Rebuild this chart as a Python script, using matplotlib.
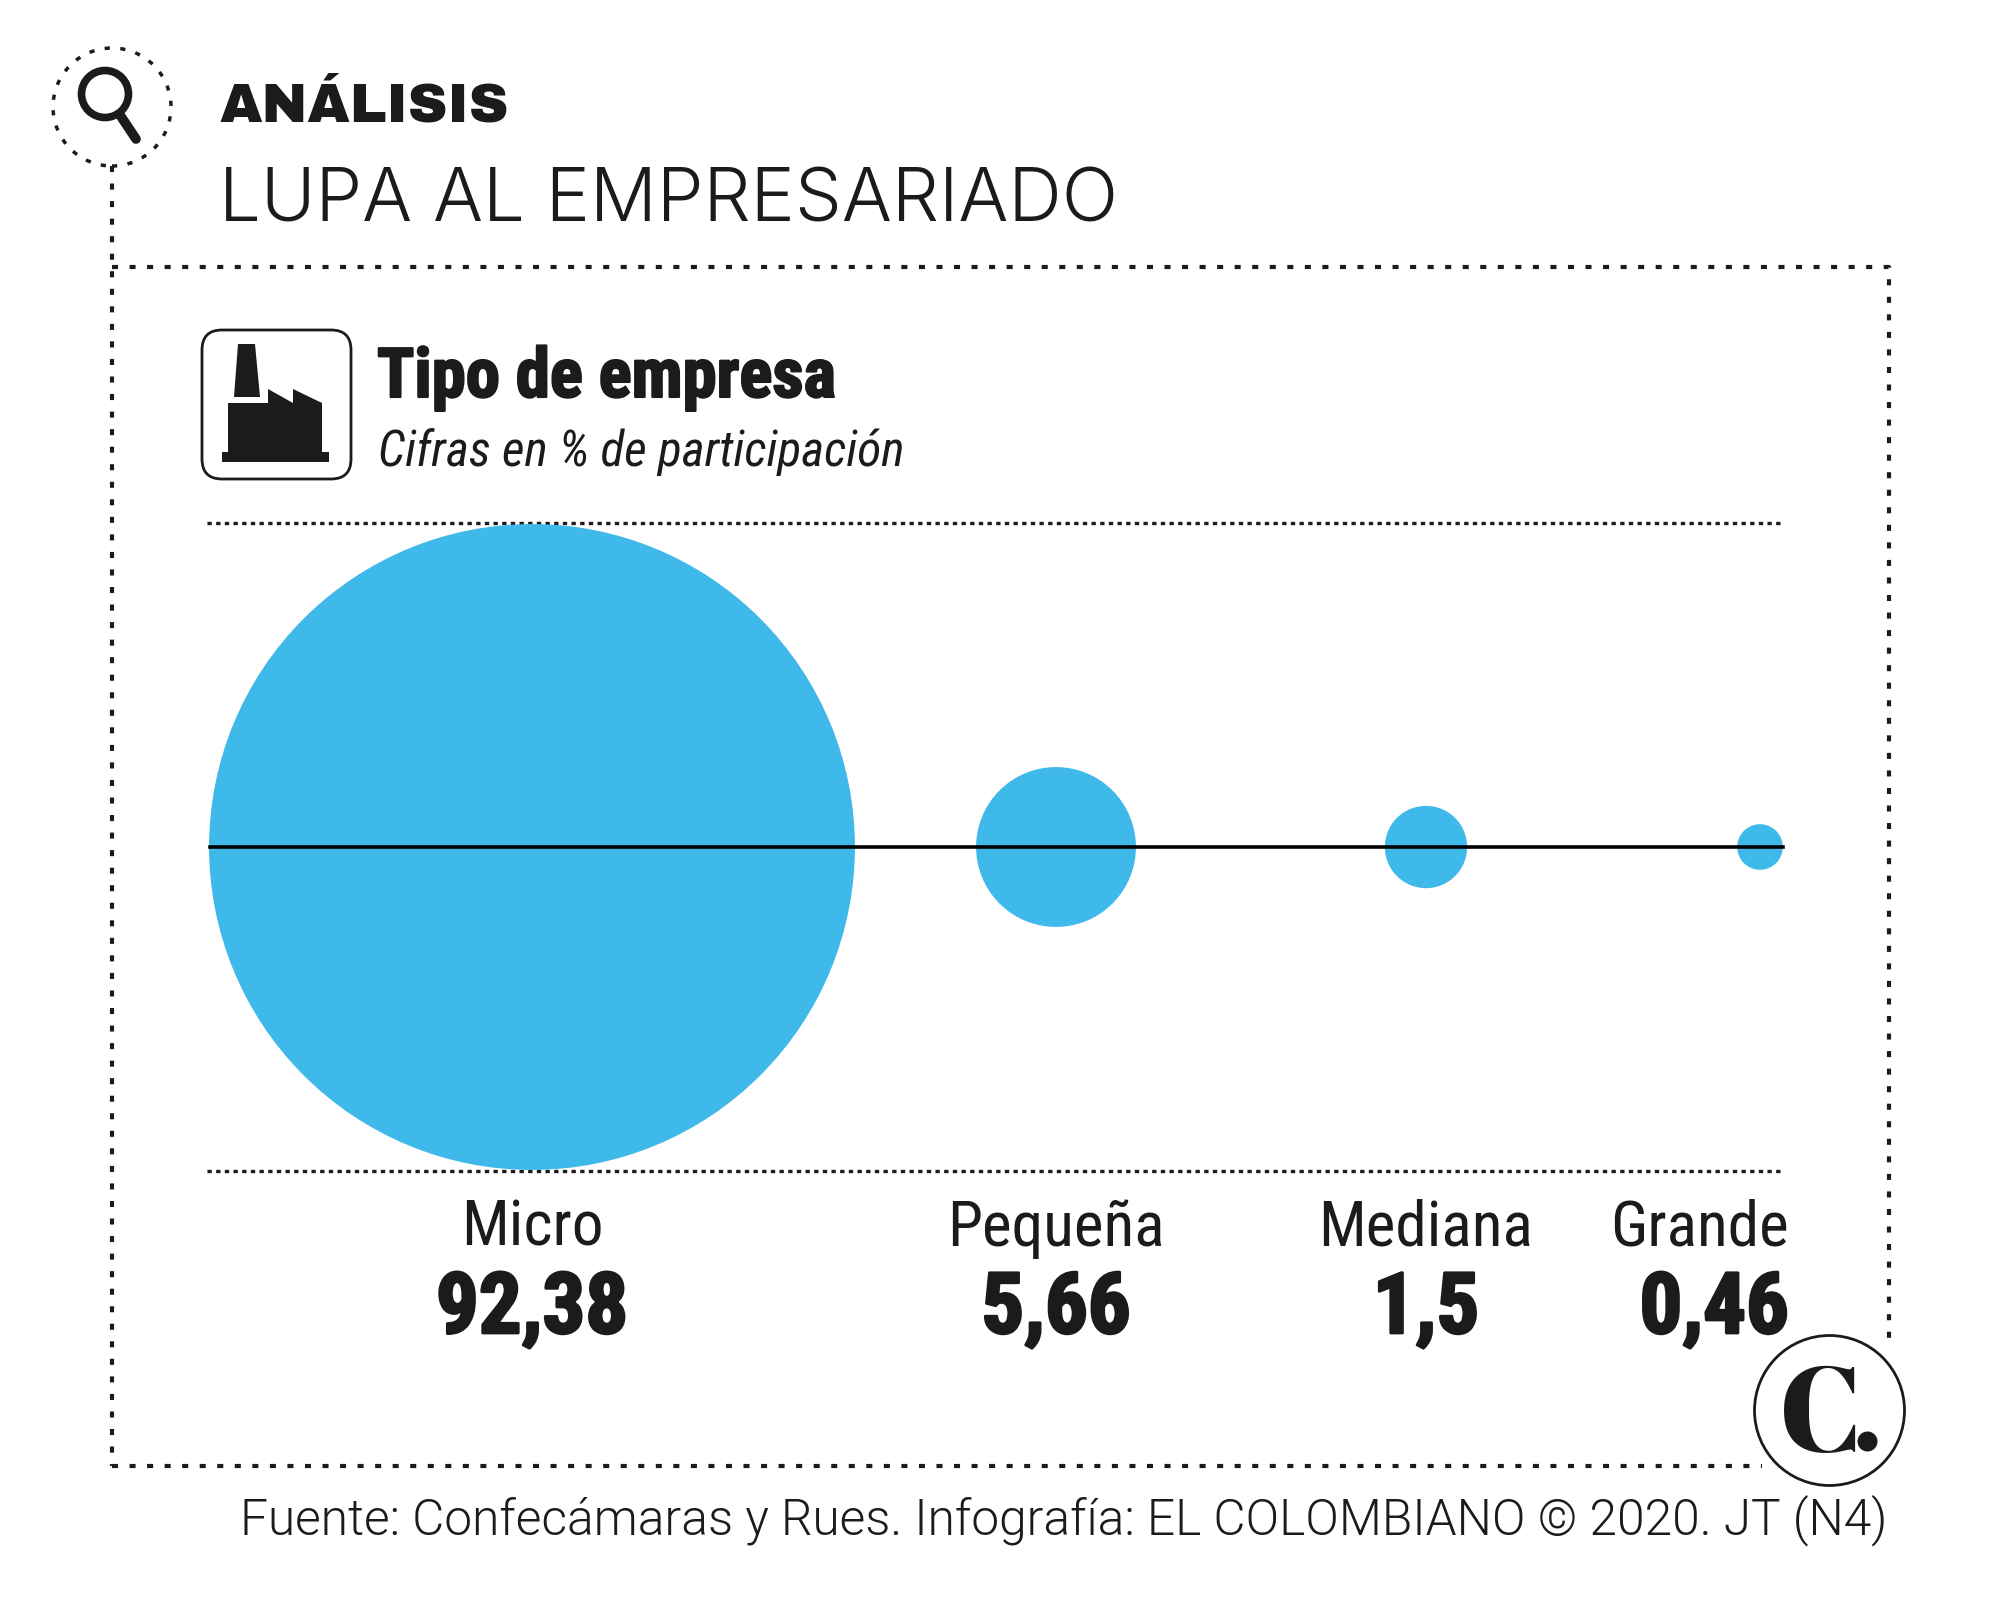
from matplotlib import pyplot as plt
from matplotlib import patheffects
from matplotlib.patches import FancyBboxPatch

def process():
    names = ["Micro", "Pequeña", "Mediana", "Grande"]
    values = [92.38, 5.66, 1.5, 0.46]
    labels = ["92,38", "5,66", "1,5", "0,46"]
    centres = [532, 1056, 1426, 1760]
    ink = "#1d1a1b"
    blue = "#3fb8ea"
    dots = (0, (1.45, 2.76))

    plt.figure(figsize=(20, 16.23), dpi=100)
    plt.axes([0, 0, 1, 1])
    plt.xlim(0, 2000)
    plt.ylim(1623, 0)
    plt.axis('off')

    #dotted frame, it stops at the logo
    plt.plot([112, 112], [166, 1466], color=ink, lw=3, ls=dots)
    plt.plot([112, 1889, 1889], [267, 267, 1348], color=ink, lw=3, ls=dots)
    plt.plot([112, 1762], [1466, 1466], color=ink, lw=3, ls=dots)

    #magnifying glass
    plt.scatter([112], [107], s=(118 * 0.72) ** 2, facecolors='none', edgecolors=ink, linewidths=2.5, linestyle=(0, (1.5, 3)))
    plt.scatter([105], [94], s=(47 * 0.72) ** 2, facecolors='none', edgecolors=ink, linewidths=5.5)
    plt.plot([120, 136], [115, 139], color=ink, lw=7, solid_capstyle='round')

    plt.text(219, 122, "ANÁLISIS", fontsize=39.5, family=["Archivo Black", "Inter"], weight=400, color=ink)
    plt.text(219, 221, "LUPA AL EMPRESARIADO", fontsize=53.5, family="Inter", weight=300, color=ink)

    #factory icon
    plt.gca().add_patch(FancyBboxPatch((202, 330), 149, 149, boxstyle="round,pad=0,rounding_size=20", fc='white', ec=ink, lw=2))
    plt.fill([238, 255, 260, 234], [344, 344, 397, 397], color=ink, lw=0)
    plt.fill([228, 268, 268, 293, 293, 322, 322, 228], [403, 403, 389, 403, 389, 403, 452, 452], color=ink, lw=0)
    plt.fill([222, 329, 329, 222], [452, 452, 462, 462], color=ink, lw=0)

    plt.text(377, 397, "Tipo de empresa", fontsize=49.5, family="Roboto Condensed", weight=700, color=ink,
             path_effects=[patheffects.withStroke(linewidth=1.5, foreground=ink)])
    plt.text(378, 466, "Cifras en % de participación", fontsize=35.6, family="Roboto Condensed", weight=400, style='italic', color=ink)

    plt.plot([207, 1784], [523, 523], color=ink, lw=2.4, ls=(0, (1.3, 1.3)))
    plt.plot([207, 1784], [1171, 1171], color=ink, lw=2.4, ls=(0, (1.3, 1.3)))

    #area of the bubble is the share
    plt.scatter(centres, [847] * 4, s=[v * 2341 for v in values], color=blue, linewidths=0, zorder=2)
    plt.plot([210, 1783], [847, 847], color="#000000", lw=2.6, zorder=3)

    for i in range(4):
        x = centres[i]
        align = 'center'
        if names[i] == "Grande":
            x = 1789
            align = 'right'
        plt.text(x, 1246, names[i], fontsize=45.5, ha=align, family="Roboto Condensed", weight=400, color=ink)
        plt.text(x, 1333, labels[i], fontsize=61, ha=align, family="Roboto Condensed", weight=700, color=ink,
                 path_effects=[patheffects.withStroke(linewidth=2, foreground=ink)])

    #logo
    plt.scatter([1829], [1410], s=(150 * 0.72) ** 2, facecolors='white', edgecolors=ink, linewidths=2, zorder=4)
    plt.text(1821, 1452, "C", fontsize=88, ha='center', family=["Abril Fatface", "DejaVu Serif"], color=ink, zorder=5)
    plt.scatter([1867], [1441], s=(20 * 0.72) ** 2, color=ink, linewidths=0, zorder=5)

    plt.text(1887, 1534, "Fuente: Confecámaras y Rues. Infografía: EL COLOMBIANO © 2020. JT (N4)", fontsize=35.7, ha='right',
             family="Roboto", weight=300, color=ink)

    plt.savefig('out.png')

if __name__ == "__main__":
    process()
